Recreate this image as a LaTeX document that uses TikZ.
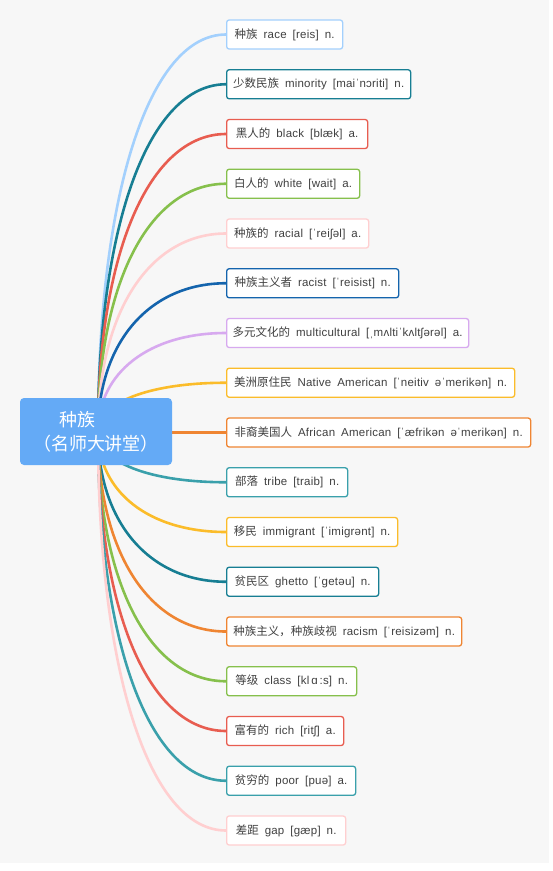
\documentclass[tikz,border=0pt]{standalone}
\usepackage{fontspec}
\setmainfont[LetterSpace=2]{Liberation Sans}
\newfontfamily\cjk{Noto Sans CJK SC}
\usetikzlibrary{calc}
\pgfdeclarelayer{bg}
\pgfdeclarelayer{lines}
\pgfsetlayers{bg,lines,main}
\definecolor{bggray}{HTML}{F7F7F7}
\definecolor{txt}{HTML}{404040}
\definecolor{rootblue}{HTML}{64AAF6}
\definecolor{c1}{HTML}{A3D0FD}
\definecolor{c2}{HTML}{177E93}
\definecolor{c3}{HTML}{E85D50}
\definecolor{c4}{HTML}{86C04C}
\definecolor{c5}{HTML}{FFCFD0}
\definecolor{c6}{HTML}{1464AD}
\definecolor{c7}{HTML}{D7A9EF}
\definecolor{c8}{HTML}{FBBC2A}
\definecolor{c9}{HTML}{EF8532}
\definecolor{c10}{HTML}{3AA0AB}
\newcommand\zh[1]{{\cjk #1}}
\newcommand\gp{\hspace{6pt}}
\tikzset{
  leaf/.style={draw, fill=white, rounded corners=2.5pt, line width=1.3pt,
    minimum height=29pt, inner sep=0pt, anchor=west, text=txt,
    font=\fontsize{11.5}{13}\selectfont},
  rootbox/.style={fill=rootblue, rounded corners=4pt, minimum width=152pt,
    minimum height=67pt, inner sep=0pt, text=white, align=center,
    font=\fontsize{18}{24}\selectfont\cjk},
  link/.style={line width=2.6pt}
}
\begin{document}
\begin{tikzpicture}[x=1pt,y=-1pt]
\useasboundingbox (0,0) rectangle (553,871);
\begin{pgfonlayer}{bg}
\fill[white] (0,0) rectangle (553,871);
\fill[bggray] (0,0) rectangle (549,863);
\end{pgfonlayer}
\node[rootbox] (root) at (96,431.5) {种族\hspace*{2em}\\（名师大讲堂）};
\coordinate (o) at (98,432);
\node[leaf, draw=c1, minimum width=116pt] (b1) at (226,34.5) {\zh{种族}\gp race\gp [reis]\gp n.};
\node[leaf, draw=c2, minimum width=184pt] (b2) at (226,84.25) {\zh{少数民族}\gp minority\gp [maiˈnɔriti]\gp n.};
\node[leaf, draw=c3, minimum width=141pt] (b3) at (226,134) {\zh{黑人的}\gp black\gp [blæk]\gp a.};
\node[leaf, draw=c4, minimum width=133pt] (b4) at (226,183.75) {\zh{白人的}\gp white\gp [wait]\gp a.};
\node[leaf, draw=c5, minimum width=142pt] (b5) at (226,233.5) {\zh{种族的}\gp racial\gp [ˈreiʃəl]\gp a.};
\node[leaf, draw=c6, minimum width=172pt] (b6) at (226,283.25) {\zh{种族主义者}\gp racist\gp [ˈreisist]\gp n.};
\node[leaf, draw=c7, minimum width=242pt] (b7) at (226,333) {\zh{多元文化的}\gp multicultural\gp [ˌmʌltiˈkʌltʃərəl]\gp a.};
\node[leaf, draw=c8, minimum width=288pt] (b8) at (226,382.75) {\zh{美洲原住民}\gp Native\gp American\gp [ˈneitiv\gp əˈmerikən]\gp n.};
\node[leaf, draw=c9, minimum width=304pt] (b9) at (226,432.5) {\zh{非裔美国人}\gp African\gp American\gp [ˈæfrikən\gp əˈmerikən]\gp n.};
\node[leaf, draw=c10, minimum width=121pt] (b10) at (226,482.25) {\zh{部落}\gp tribe\gp [traib]\gp n.};
\node[leaf, draw=c8, minimum width=171pt] (b11) at (226,532) {\zh{移民}\gp immigrant\gp [ˈimigrənt]\gp n.};
\node[leaf, draw=c2, minimum width=152pt] (b12) at (226,581.75) {\zh{贫民区}\gp ghetto\gp [ˈgetəu]\gp n.};
\node[leaf, draw=c9, minimum width=235pt] (b13) at (226,631.5) {\zh{种族主义，种族歧视}\gp racism\gp [ˈreisizəm]\gp n.};
\node[leaf, draw=c4, minimum width=130pt] (b14) at (226,681.25) {\zh{等级}\gp class\gp [kl\,ɑ\,:s]\gp n.};
\node[leaf, draw=c3, minimum width=117pt] (b15) at (226,731) {\zh{富有的}\gp rich\gp [ritʃ]\gp a.};
\node[leaf, draw=c10, minimum width=129pt] (b16) at (226,780.75) {\zh{贫穷的}\gp poor\gp [puə]\gp a.};
\node[leaf, draw=c5, minimum width=119pt] (b17) at (226,830.5) {\zh{差距}\gp gap\gp [gæp]\gp n.};
\begin{pgfonlayer}{lines}
\foreach \i/\c in {1/c1,2/c2,3/c3,4/c4,5/c5,6/c6,7/c7,8/c8,9/c9,10/c10,11/c8,12/c2,13/c9,14/c4,15/c3,16/c10,17/c5}{
  \draw[link, draw=\c] (o) .. controls ($(o)!0.6!(o|-b\i.west)$) and ($(o|-b\i.west)!0.4!(b\i.west)$) .. (b\i.west);
}
\end{pgfonlayer}
\end{tikzpicture}
\end{document}
